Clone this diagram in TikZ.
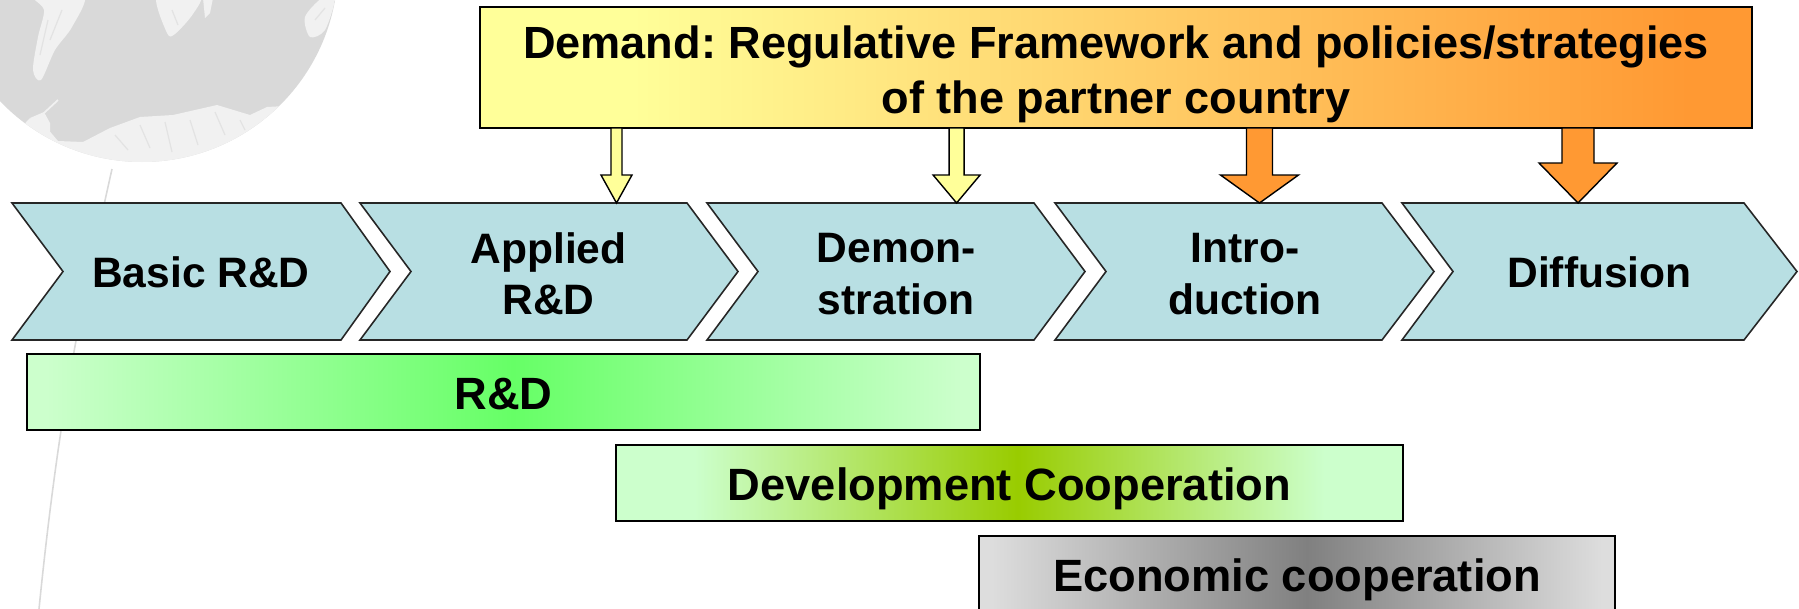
\documentclass[tikz,border=0pt]{standalone}
\usepackage{fontspec}
\setmainfont{Liberation Sans}
\frenchspacing
\usetikzlibrary{calc}
\definecolor{chev}{HTML}{B8DFE3}
\definecolor{lgreen}{HTML}{CCFFCC}
\definecolor{dyellow}{HTML}{FFFF99}
\definecolor{dorange}{HTML}{FF9933}
\definecolor{globe}{HTML}{D9D9D9}
\definecolor{land}{HTML}{F1F1F1}
\definecolor{ridge}{HTML}{E3E3E3}
\definecolor{rdmid}{HTML}{66FF66}
\definecolor{devmid}{HTML}{99CC00}
\definecolor{ecoend}{HTML}{DDDDDD}
\definecolor{ecomid}{HTML}{808080}
\pgfdeclarehorizontalshading{demandshade}{100bp}{color(0bp)=(dyellow);color(31bp)=(dyellow);color(72.5bp)=(dorange);color(100bp)=(dorange)}
\pgfdeclarehorizontalshading{rdshade}{100bp}{color(0bp)=(lgreen);color(26bp)=(lgreen);color(50.5bp)=(rdmid);color(74bp)=(lgreen);color(100bp)=(lgreen)}
\pgfdeclarehorizontalshading{devshade}{100bp}{color(0bp)=(lgreen);color(30bp)=(lgreen);color(50.5bp)=(devmid);color(70bp)=(lgreen);color(100bp)=(lgreen)}
\pgfdeclarehorizontalshading{ecoshade}{100bp}{color(0bp)=(ecoend);color(26bp)=(ecoend);color(50.8bp)=(ecomid);color(74bp)=(ecoend);color(100bp)=(ecoend)}
\tikzset{
  big/.style={font=\bfseries\fontsize{12.83}{15.65}\selectfont,align=center,inner sep=0pt},
  chevtext/.style={font=\bfseries\fontsize{12.1}{14.6}\selectfont,align=center,inner sep=0pt},
  chevbody/.style={draw=black!85,line width=0.45pt,fill=chev,line join=miter},
  stagebar/.style={draw=black,line width=0.6pt,inner sep=0pt,outer sep=0pt,text height=9.67pt,text depth=0pt,font=\bfseries\fontsize{12.87}{15}\selectfont},
  blockY/.style={draw=black,line width=0.4pt,fill=dyellow,line join=miter},
  blockO/.style={draw=black,line width=0.4pt,fill=dorange,line join=miter},
}
\newcommand{\chevshape}[3]{% left, topright, tip
  \draw[chevbody] (#1,203) -- (#2,203) -- (#3,271.5) -- (#2,340) -- (#1,340) -- ({#1+51},271.5) -- cycle;}
\newcommand{\blockarrow}[6]{% style, tip name, shaft half, head half, head y, shaft-top node
  \coordinate (hh) at (#2 |- 0,#5);
  \draw[#1] (#2) -- ($(hh)+(#4,0)$) -- ($(hh)+(#3,0)$) -- ($(#2 |- #6.south)+(#3,0)$) -- ($(#2 |- #6.south)+(-#3,0)$) -- ($(hh)+(-#3,0)$) -- ($(hh)+(-#4,0)$) -- cycle;}
\begin{document}
\begin{tikzpicture}[x=0.01cm,y=-0.01cm]
\useasboundingbox (0,0) rectangle (1799,609);
% globe
\begin{scope}
  \clip (0,0) rectangle (1799,609);
  \fill[globe] (142,-34) circle [radius=196];
  \begin{scope}
    \clip (142,-34) circle [radius=196];
    \fill[land] plot[smooth cycle,tension=0.5] coordinates {(33,-5)(44,10)(38,37)(33,70)(41,80)(55,50)(72,27)(84,-5)};
    \fill[land] plot[smooth cycle,tension=0.5] coordinates {(157,-5)(167,33)(175,34)(193,14)(200,-5)};
    \fill[land] (203,-2) -- (205,18) -- (210,13) -- (213,-2) -- cycle;
    \fill[land] plot[smooth cycle,tension=0.5] coordinates {(305,17)(310,37)(325,30)(335,-2)(322,-2)};
    \fill[land] (30,118) -- (47,128) -- (58,141) -- (83,142) -- (110,128) -- (140,117) -- (173,115) -- (217,105) -- (250,115) -- (267,107) -- (285,106) -- (300,120) -- (240,185) -- (60,185) -- (0,150) -- cycle;
    \fill[land] (30,118) -- (44,112) -- (50,123) -- (50,135) -- cycle;
    \draw[land,line width=0.5pt] (44,113) -- (58,100);
    \draw[ridge,line width=0.35pt] (115,135) -- (128,150) (140,125) -- (150,148) (165,122) -- (172,152) (190,120) -- (198,145) (215,112) -- (225,135) (240,120) -- (245,130)
      (48,20) -- (40,55) (62,10) -- (50,40) (172,10) -- (178,25) (315,20) -- (325,8);
  \end{scope}
\end{scope}
% faint meridian
\draw[globe,line width=0.45pt] (112,169) .. controls (85,290) and (60,400) .. (39,609);
% chevrons
\chevshape{12}{341}{390}
\chevshape{360}{687}{738}
\chevshape{707}{1034}{1085}
\chevshape{1055}{1382}{1434}
\chevshape{1402}{1744}{1797}
\node[chevtext,anchor=base] (c1) at (201,287) {Basic R\&D};
\node[chevtext] (c2) at (548.5,274) {Applied\\R\&D};
\node[chevtext] (c3) at (896,274) {Demon-\\stration};
\node[chevtext] (c4) at (1245,274) {Intro-\\duction};
\node[chevtext,anchor=base] (c5) at (1599.5,287) {Diffusion};
% demand box
\node[big,draw=black,line width=0.6pt,outer sep=0pt,minimum width=12.72cm,minimum height=1.21cm,shading=demandshade] (demand) at (1116,67.5) {\rule{0pt}{13.3pt}Demand: Regulative Framework and policies/strategies\\of the partner country};
% arrows
\coordinate (t1) at (616.5,203);
\coordinate (t2) at (956.6,203);
\coordinate (t3) at (1259.5,203);
\coordinate (t4) at (1578,203);
\blockarrow{blockY}{t1}{5.5}{15.5}{175}{demand}
\blockarrow{blockY}{t2}{7.5}{23.5}{175}{demand}
\blockarrow{blockO}{t3}{13}{39}{175}{demand}
\blockarrow{blockO}{t4}{16}{39}{163}{demand}
% bars
\node[stagebar,minimum width=9.53cm,minimum height=0.76cm,shading=rdshade] (rd) at (503.5,392) {R\&D};
\node[stagebar,minimum width=7.87cm,minimum height=0.76cm,shading=devshade] (dev) at (1009.5,483) {Development Cooperation};
\node[stagebar,minimum width=6.36cm,minimum height=0.76cm,shading=ecoshade] (eco) at (1297,574) {Economic cooperation};
\end{tikzpicture}
\end{document}
